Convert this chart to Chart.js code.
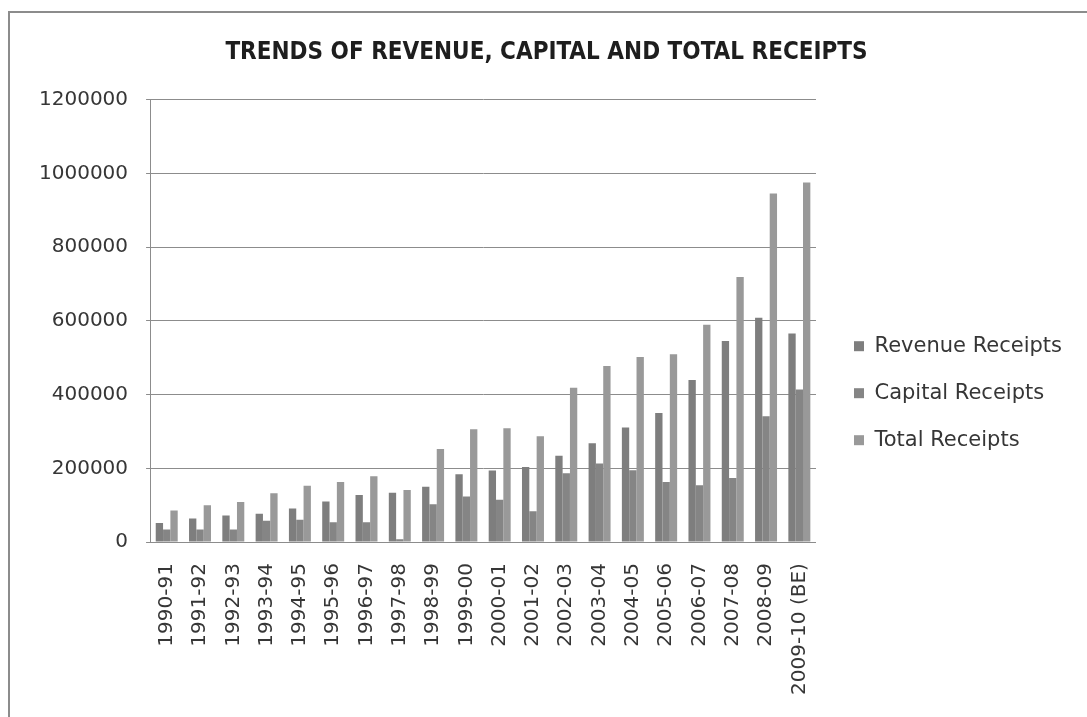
<!DOCTYPE html>
<html>
<head>
<meta charset="utf-8">
<script src="https://cdn.jsdelivr.net/npm/chart.js@4/dist/chart.umd.min.js"></script>
<style>
  html, body { margin: 0; padding: 0; background: #fff; overflow: hidden; }
  #wrap { position: relative; width: 1087px; height: 717px; }
  #frame { position: absolute; left: 8px; top: 11px; width: 1100px; height: 720px;
           border-left: 2px solid #8c8c8c; border-top: 2px solid #8c8c8c; }
  #receipts { position: absolute; left: 0; top: 0; }
</style>
</head>
<body>
<div id="wrap">
  <div id="frame"></div>
  <canvas id="receipts" width="1087" height="717"></canvas>
</div>
<script>
// financial years on the x axis
var years = ["1990-91", "1991-92", "1992-93", "1993-94", "1994-95", "1995-96", "1996-97",
             "1997-98", "1998-99", "1999-00", "2000-01", "2001-02", "2002-03", "2003-04",
             "2004-05", "2005-06", "2006-07", "2007-08", "2008-09", "2009-10 (BE)"];

var revenue = [52000, 64000, 72500, 77000, 91000, 110500, 127500, 134000, 150500, 184000,
               194000, 204000, 234500, 268000, 311000, 350000, 439500, 545500, 608500, 566000];

var capital = [34000, 34000, 34000, 58000, 61000, 54000, 54000, 8000, 102500, 123500,
               115000, 84000, 186500, 213000, 195000, 163000, 154000, 174000, 341500, 414000];

var total = [85500, 100000, 108500, 132500, 153000, 163000, 178500, 141500, 252500, 306000,
             309000, 287000, 418500, 477500, 502500, 510000, 589500, 719000, 945500, 975500];

var yTicks = [0, 200000, 400000, 600000, 800000, 1000000, 1200000];

var gridGrey = "#8c8c8c";
var textCol = "#363636";

var ctx = document.getElementById("receipts");

var receiptData = {
    labels: years,
    datasets: [
        { label: "Revenue Receipts", data: revenue, backgroundColor: "#7e7e7e" },
        { label: "Capital Receipts", data: capital, backgroundColor: "#858585" },
        { label: "Total Receipts", data: total, backgroundColor: "#999999" }
    ]
};

var receiptChart = new Chart(ctx, {
    type: "bar",
    data: receiptData,
    options: {
        responsive: false,
        animation: false,
        categoryPercentage: 0.66,
        barPercentage: 1.0,
        layout: { padding: { left: 21, right: 15, top: 38, bottom: 9 } },
        plugins: {
            title: {
                display: true,
                text: "TRENDS OF REVENUE, CAPITAL AND TOTAL RECEIPTS",
                color: "#1e1e1e",
                font: { family: "'Liberation Sans Narrow', 'DejaVu Sans Condensed', 'DejaVu Sans'", size: 24, weight: "bold" },
                padding: { top: 0, bottom: 33 }
            },
            legend: {
                position: "right",
                maxWidth: 300,
                // empty legend title pushes the items down a little
                title: { display: true, text: " ", padding: { top: 0, bottom: 26 } },
                labels: {
                    boxWidth: 10,
                    boxHeight: 10,
                    padding: 26,
                    color: textCol,
                    font: { family: "'DejaVu Sans'", size: 21 }
                }
            },
            tooltip: { enabled: false }
        },
        scales: {
            x: {
                grid: { display: false },
                border: { display: true, color: gridGrey, width: 1 },
                ticks: {
                    minRotation: 90,
                    maxRotation: 90,
                    padding: 13,
                    color: textCol,
                    font: { family: "'DejaVu Sans'", size: 20 }
                }
            },
            y: {
                min: 0,
                max: 1200000,
                afterBuildTicks: function (axis) {
                    axis.ticks = yTicks.map(function (v) { return { value: v }; });
                },
                grid: { color: gridGrey, tickLength: 4, lineWidth: 1 },
                border: { display: true, color: gridGrey, width: 1 },
                ticks: {
                    padding: 18,
                    color: textCol,
                    font: { family: "'DejaVu Sans'", size: 20 },
                    callback: function (v) { return String(v); }
                }
            },
            // blank strip between the plot and the legend
            gap: {
                type: "linear",
                position: "right",
                grid: { display: false },
                border: { display: false },
                ticks: { display: false },
                afterFit: function (axis) { axis.width = 12; }
            }
        }
    }
});
</script>
</body>
</html>
